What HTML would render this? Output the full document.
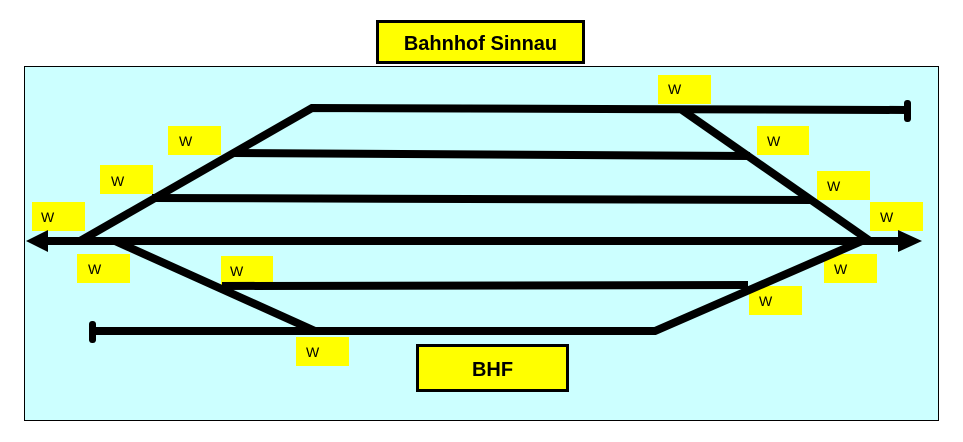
<!DOCTYPE html>
<html><head><meta charset="utf-8"><style>
html,body{margin:0;padding:0;background:#fff;}
svg{display:block;font-family:"Liberation Sans",Arial,sans-serif;}
</style></head><body>
<svg width="963" height="442" viewBox="0 0 963 442">
<rect x="24.5" y="66.5" width="914" height="354" fill="#ccffff" stroke="#000" stroke-width="1"/>
<g fill="#ffff00">
<rect x="168" y="126" width="53" height="29"/>
<rect x="100" y="165" width="53" height="29"/>
<rect x="32" y="202" width="53" height="29"/>
<rect x="77" y="254" width="53" height="29"/>
<rect x="221" y="256" width="52" height="29"/>
<rect x="296" y="337" width="53" height="29"/>
<rect x="658" y="75" width="53" height="29"/>
<rect x="757" y="126" width="52" height="29"/>
<rect x="817" y="171" width="53" height="29"/>
<rect x="870" y="202" width="53" height="29"/>
<rect x="824" y="254" width="53" height="29"/>
<rect x="749" y="286" width="53" height="29"/>
</g>
<g font-size="14" fill="#000">
<text x="179" y="146">W</text>
<text x="111" y="186">W</text>
<text x="41" y="222">W</text>
<text x="88" y="274">W</text>
<text x="230" y="276">W</text>
<text x="306" y="357">W</text>
<text x="668" y="94">W</text>
<text x="767" y="146">W</text>
<text x="827" y="191">W</text>
<text x="880" y="222">W</text>
<text x="834" y="274">W</text>
<text x="759" y="306">W</text>
</g>
<g stroke="#000" stroke-width="8" fill="none" stroke-linejoin="miter">
<polyline points="80,241 312,108 908,110"/>
<line x1="233" y1="153" x2="750" y2="156"/>
<line x1="152" y1="198" x2="812" y2="200"/>
<line x1="42" y1="241" x2="905" y2="241"/>
<line x1="682" y1="110" x2="870" y2="241"/>
<line x1="222" y1="286" x2="748" y2="285"/>
<polyline points="92,331 655,331 862,241"/>
<line x1="115" y1="241" x2="315" y2="331"/>
</g>
<polygon points="26,241 48,230 48,252" fill="#000"/>
<polygon points="922,241 898,230 898,252" fill="#000"/>
<rect x="904" y="100" width="7" height="22" rx="3" fill="#000"/>
<rect x="89" y="321" width="7" height="22" rx="3" fill="#000"/>
<rect x="377.5" y="21.5" width="206" height="41" fill="#ffff00" stroke="#000" stroke-width="3"/>
<text x="480.5" y="50" font-size="20" font-weight="bold" text-anchor="middle">Bahnhof Sinnau</text>
<rect x="417.5" y="345.5" width="150" height="45" fill="#ffff00" stroke="#000" stroke-width="3"/>
<text x="492.5" y="376" font-size="20" font-weight="bold" text-anchor="middle">BHF</text>
</svg>
</body></html>
